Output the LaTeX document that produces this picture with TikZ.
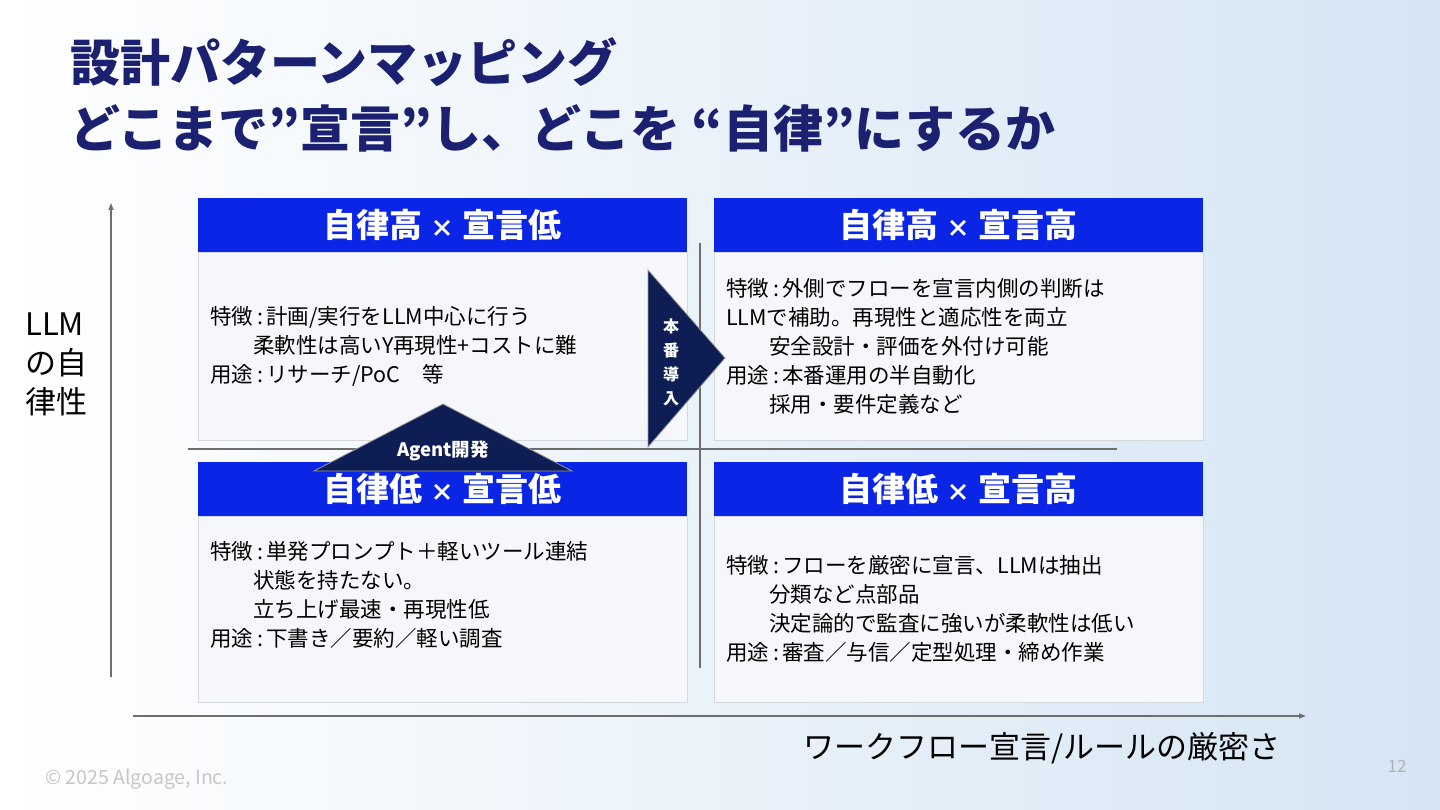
\documentclass[tikz,border=0pt]{standalone}
\usepackage{fontspec}
\setmainfont{Noto Sans CJK JP}
\newfontfamily\jp{Noto Sans CJK JP}
\usetikzlibrary{positioning, arrows.meta, calc}
\definecolor{navy}{HTML}{1B2170}
\definecolor{hdblue}{HTML}{0A25E6}
\definecolor{bodyfill}{HTML}{F5F7FA}
\definecolor{bodyline}{HTML}{D3D8DF}
\definecolor{axisgray}{HTML}{6E6E6E}
\definecolor{arrownavy}{HTML}{0E1E55}
\definecolor{bgblue}{HTML}{D5E5F4}
\newcommand{\cl}{\hspace{0.2em}:\hspace{0.15em}}
\newcommand{\tm}{{\fontsize{24}{24}\selectfont ×}}

\begin{document}
\begin{tikzpicture}[
  x=1pt, y=-1pt,
  >={Triangle[length=7pt, width=5pt]},
  every node/.style={font=\jp, inner sep=0pt},
  head/.style  = {fill=hdblue, text=white, minimum width=489pt, minimum height=54pt, font=\jp\bfseries\fontsize{33}{36}\selectfont},
  body/.style  = {draw=bodyline, fill=bodyfill, minimum width=489pt, align=left, text width=465pt, font=\jp\fontsize{21.5}{29}\selectfont},
  axis/.style  = {->, axisgray, line width=1.3pt},
  cross/.style = {axisgray, line width=1.3pt},
  flow/.style  = {fill=arrownavy, draw=gray!80, line width=0.8pt},
  flowtext/.style = {text=white, font=\jp\bfseries\fontsize{16}{24}\selectfont, align=center},
]
  % background
  \shade[left color=white, right color=bgblue] (0,0) rectangle (1440,810);
  \useasboundingbox (0,0) rectangle (1440,810);

  % title
  \node[anchor=west, text=navy, align=left, font=\jp\bfseries\fontsize{50}{66}\selectfont] (title) at (70,95)
    {設計パターンマッピング\\どこまで”宣言”し、どこを “自律”にするか};

  % axes
  \coordinate (yfrom) at (111,677);
  \coordinate (yto)   at (111,203);
  \coordinate (xfrom) at (133,716);
  \coordinate (xto)   at (1306,716);
  \draw[axis] (yfrom) -- (yto);
  \draw[axis] (xfrom) -- (xto);
  \node[anchor=west, align=left, font=\jp\fontsize{31}{39}\selectfont] (ylabel) at (25,364) {LLM\\の自\\律性};
  \node[anchor=east, font=\jp\fontsize{31}{34}\selectfont] (xlabel) at (1281,748) {ワークフロー宣言/ルールの厳密さ};

  % cross lines
  \coordinate (hl) at (188,449);
  \coordinate (hr) at (1117,449);
  \coordinate (vt) at (700,243);
  \coordinate (vb) at (700,668);
  \draw[cross] (hl) -- (hr);
  \draw[cross] (vt) -- (vb);

  % quadrants
  \node[head] (tlh) at (442.5,225) {自律高 \tm\ 宣言低};
  \node[body, minimum height=188pt, below=0pt of tlh] (tlb)
    {特徴\cl 計画/実行をLLM中心に行う\\\hspace*{2em}柔軟性は高いY再現性+コストに難\\用途\cl リサーチ/PoC\quad 等};
  \node[head] (trh) at (958.5,225) {自律高 \tm\ 宣言高};
  \node[body, minimum height=188pt, below=0pt of trh] (trb)
    {特徴\cl 外側でフローを宣言内側の判断は\\LLMで補助。再現性と適応性を両立\\\hspace*{2em}安全設計・評価を外付け可能\\用途\cl 本番運用の半自動化\\\hspace*{2em}採用・要件定義など};
  \node[head] (blh) at (442.5,488.5) {自律低 \tm\ 宣言低};
  \node[body, minimum height=186pt, below=0pt of blh] (blb)
    {特徴\cl 単発プロンプト＋軽いツール連結\\\hspace*{2em}状態を持たない。\\\hspace*{2em}立ち上げ最速・再現性低\\用途\cl 下書き／要約／軽い調査\\\mbox{}};
  \node[head] (brh) at (958.5,488.5) {自律低 \tm\ 宣言高};
  \node[body, minimum height=186pt, below=0pt of brh] (brb)
    {特徴\cl フローを厳密に宣言、LLMは抽出\\\hspace*{2em}分類など点部品\\\hspace*{2em}決定論的で監査に強いが柔軟性は低い\\用途\cl 審査／与信／定型処理・締め作業};

  % transition arrows
  \draw[flow] (648,270) -- (725,358) -- (648,447) -- cycle;
  \node[flowtext] (prod) at (671,362) {本\\番\\導\\入};
  \draw[flow] (314,471) -- (443,404) -- (572,471) -- cycle;
  \node[flowtext, font=\jp\bfseries\fontsize{18.5}{24}\selectfont] (agent) at (443,451) {Agent開発};

  % footer
  \node[anchor=west, text=gray!45, font=\jp\fontsize{19.5}{20}\selectfont] (copy) at (45,779) {© 2025 Algoage, Inc.};
  \node[text=gray!60, font=\jp\fontsize{17}{18}\selectfont] (page) at (1397,766) {12};
\end{tikzpicture}
\end{document}
